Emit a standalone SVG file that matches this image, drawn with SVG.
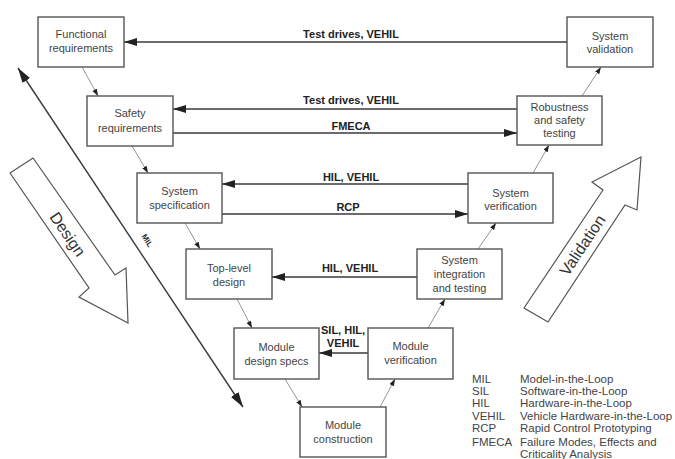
<svg xmlns="http://www.w3.org/2000/svg" width="675" height="459" viewBox="0 0 675 459">
<style>
.box{fill:#fff;stroke:#555;stroke-width:1.4}
.nt{font-family:"Liberation Sans",Arial,sans-serif;font-size:11px;fill:#444;text-anchor:middle}
.el{font-family:"Liberation Sans",Arial,sans-serif;font-size:11px;font-weight:bold;fill:#222;text-anchor:middle}
.main{stroke:#3a3a3a;stroke-width:1.4;fill:none}
.thin{stroke:#888;stroke-width:0.9;fill:none}
.big{fill:#fff;stroke:#555;stroke-width:1.2}
.bt{font-family:"Liberation Sans",Arial,sans-serif;font-size:16px;fill:#333;text-anchor:middle}
.lg{font-family:"Liberation Sans",Arial,sans-serif;font-size:11.5px;fill:#444}
</style>
<defs>
<marker id="ah" markerUnits="userSpaceOnUse" markerWidth="14" markerHeight="9" refX="13" refY="4" orient="auto"><path d="M0,0 L13,4 L0,8 z" fill="#222"/></marker>
<marker id="as" markerUnits="userSpaceOnUse" markerWidth="8" markerHeight="6" refX="7" refY="2.5" orient="auto"><path d="M0,0 L7,2.5 L0,5 z" fill="#222"/></marker>
<marker id="am" markerUnits="userSpaceOnUse" markerWidth="16" markerHeight="10" refX="15" refY="4.5" orient="auto-start-reverse"><path d="M0,0 L15,4.5 L0,9 z" fill="#222"/></marker>
</defs>
<rect width="675" height="459" fill="#fff"/>

<g id="design-arrow">
<polygon class="big" points="10,173 33,158 115,275 126,268 128,323 79,297 89,288"/>
<text class="bt" transform="translate(68,234) rotate(55.4)" y="6">Design</text>
</g>
<g id="validation-arrow">
<polygon class="big" points="524,308 603,190 592,182 641,157 637,210 625,205 548,322"/>
<text class="bt" transform="translate(582,245) rotate(-56.4)" y="6">Validation</text>
</g>

<g id="connectors">
<line class="main" x1="567" y1="42" x2="124" y2="42" marker-end="url(#ah)"/>
<line class="main" x1="517" y1="109" x2="173" y2="109" marker-end="url(#ah)"/>
<line class="main" x1="173" y1="133" x2="517" y2="133" marker-end="url(#ah)"/>
<line class="main" x1="468" y1="184" x2="222" y2="184" marker-end="url(#ah)"/>
<line class="main" x1="222" y1="214" x2="468" y2="214" marker-end="url(#ah)"/>
<line class="main" x1="417" y1="277" x2="272" y2="277" marker-end="url(#ah)"/>
<line class="main" x1="368" y1="353" x2="319" y2="353" marker-end="url(#ah)"/>
<line class="main" x1="18" y1="68" x2="243" y2="407" marker-start="url(#am)" marker-end="url(#am)"/>
<line class="thin" x1="82" y1="67" x2="98" y2="96" marker-end="url(#as)"/>
<line class="thin" x1="132" y1="146" x2="148" y2="173" marker-end="url(#as)"/>
<line class="thin" x1="185" y1="223" x2="200" y2="249" marker-end="url(#as)"/>
<line class="thin" x1="237" y1="299" x2="252" y2="328" marker-end="url(#as)"/>
<line class="thin" x1="285" y1="379" x2="302" y2="407" marker-end="url(#as)"/>
<line class="thin" x1="380" y1="407" x2="395" y2="379" marker-end="url(#as)"/>
<line class="thin" x1="428" y1="328" x2="445" y2="299" marker-end="url(#as)"/>
<line class="thin" x1="478" y1="249" x2="496" y2="223" marker-end="url(#as)"/>
<line class="thin" x1="533" y1="173" x2="549" y2="145" marker-end="url(#as)"/>
<line class="thin" x1="582" y1="96" x2="601" y2="67" marker-end="url(#as)"/>
<text class="el" x="351" y="38">Test drives, VEHIL</text>
<text class="el" x="351" y="104">Test drives, VEHIL</text>
<text class="el" x="351" y="130">FMECA</text>
<text class="el" x="351" y="181">HIL, VEHIL</text>
<text class="el" x="348" y="211">RCP</text>
<text class="el" x="350" y="272">HIL, VEHIL</text>
<text class="el" x="343" y="334">SIL, HIL,</text>
<text class="el" x="343" y="347">VEHIL</text>
<text class="el" style="font-size:8px" transform="translate(145,242) rotate(56.4)" y="0">MIL</text>
</g>

<g id="functional-requirements"><rect class="box" x="38" y="17" width="86" height="50"/><text class="nt" x="81" y="38">Functional</text><text class="nt" x="81" y="52">requirements</text></g>
<g id="safety-requirements"><rect class="box" x="87" y="96" width="86" height="50"/><text class="nt" x="130" y="117">Safety</text><text class="nt" x="130" y="132">requirements</text></g>
<g id="system-specification"><rect class="box" x="137" y="173" width="85" height="50"/><text class="nt" x="179.5" y="195">System</text><text class="nt" x="179.5" y="209">specification</text></g>
<g id="top-level-design"><rect class="box" x="186" y="249" width="86" height="50"/><text class="nt" x="229" y="272">Top-level</text><text class="nt" x="229" y="286">design</text></g>
<g id="module-design-specs"><rect class="box" x="234" y="328" width="85" height="51"/><text class="nt" x="276.5" y="351">Module</text><text class="nt" x="276.5" y="365">design specs</text></g>
<g id="module-construction"><rect class="box" x="300" y="407" width="86" height="50"/><text class="nt" x="343" y="429">Module</text><text class="nt" x="343" y="443">construction</text></g>
<g id="module-verification"><rect class="box" x="368" y="328" width="85" height="51"/><text class="nt" x="410.5" y="350">Module</text><text class="nt" x="410.5" y="364">verification</text></g>
<g id="system-integration"><rect class="box" x="417" y="249" width="85" height="50"/><text class="nt" x="459.5" y="264">System</text><text class="nt" x="459.5" y="278">integration</text><text class="nt" x="459.5" y="292">and testing</text></g>
<g id="system-verification"><rect class="box" x="468" y="173" width="85" height="50"/><text class="nt" x="510.5" y="197">System</text><text class="nt" x="510.5" y="210">verification</text></g>
<g id="robustness-testing"><rect class="box" x="517" y="96" width="85" height="49"/><text class="nt" x="559.5" y="111">Robustness</text><text class="nt" x="559.5" y="124">and safety</text><text class="nt" x="559.5" y="137">testing</text></g>
<g id="system-validation"><rect class="box" x="567" y="17" width="86" height="50"/><text class="nt" x="610" y="40">System</text><text class="nt" x="610" y="53">validation</text></g>

<g id="legend">
<text class="lg" x="472" y="383">MIL</text><text class="lg" x="520" y="383">Model-in-the-Loop</text>
<text class="lg" x="472" y="395">SIL</text><text class="lg" x="520" y="395">Software-in-the-Loop</text>
<text class="lg" x="472" y="407">HIL</text><text class="lg" x="520" y="407">Hardware-in-the-Loop</text>
<text class="lg" x="472" y="420">VEHIL</text><text class="lg" x="520" y="420">Vehicle Hardware-in-the-Loop</text>
<text class="lg" x="472" y="432">RCP</text><text class="lg" x="520" y="432">Rapid Control Prototyping</text>
<text class="lg" x="472" y="446">FMECA</text><text class="lg" x="520" y="446">Failure Modes, Effects and</text>
<text class="lg" x="520" y="458">Criticality Analysis</text>
</g>
</svg>
